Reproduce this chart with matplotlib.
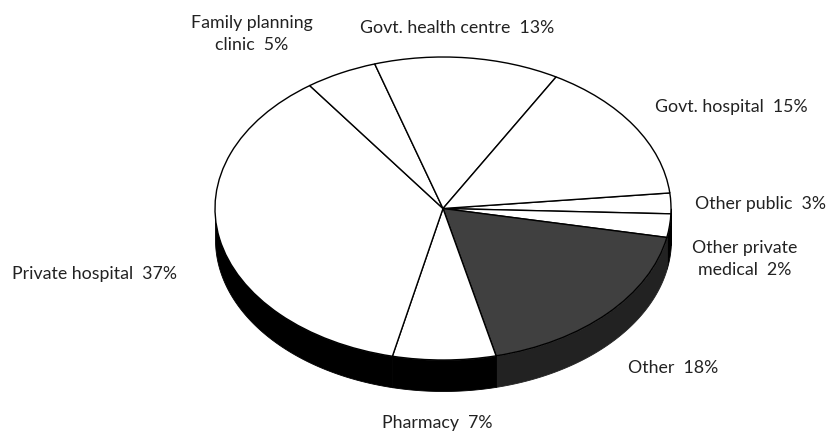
import numpy as np
import matplotlib
matplotlib.use("Agg")
import matplotlib.pyplot as plt

# clockwise from the right hand edge
slices = ["Other public", "Other private medical", "Other", "Pharmacy",
          "Private hospital", "Family planning clinic", "Govt. health centre", "Govt. hospital"]
shares = [2.2, 2.5, 18.2, 7.3, 36.5, 5.1, 13.1, 15.1]
top_colors = ["white", "white", "#404040", "white", "white", "white", "white", "white"]
side_colors = ["black", "black", "#222222", "black", "black", "black", "black", "black"]
labels = ["Other public  3%", "Other private\nmedical  2%", "Other  18%", "Pharmacy  7%",
          "Private hospital  37%", "Family planning\nclinic  5%", "Govt. health centre  13%",
          "Govt. hospital  15%"]
label_xy = [(760, 204), (745, 259), (673, 368), (437, 423), (94, 274), (252, 34), (457, 28), (731, 107)]

W, H = 830, 432
cx, cy, rx, ry, depth = 443, 208.5, 228, 151.5, 31
start = 5.9

plt.rcParams["font.family"] = ["Lato", "DejaVu Sans"]
fig = plt.figure(figsize=(W / 100, H / 100), dpi=100)
ax = fig.add_axes([0, 0, 1, 1])

# side wall first, only the front half of each slice shows
edges = start - np.cumsum([0] + shares) * 3.6
dz = depth / ry
for i in range(len(shares)):
    lo, hi = max(edges[i + 1], -180), min(edges[i], 0)
    if hi <= lo:
        continue
    t = np.radians(np.linspace(lo, hi, 100))
    ax.fill_between(np.cos(t), np.sin(t) - dz, np.sin(t), color=side_colors[i], lw=0.6, zorder=1)

ax.pie(shares, startangle=start, counterclock=False, colors=top_colors,
       wedgeprops={"edgecolor": "black", "linewidth": 1.0, "zorder": 2})
ax.set_aspect("auto")
ax.set_xlim(-cx / rx, (W - cx) / rx)
ax.set_ylim((cy - H) / ry, cy / ry)
ax.axis("off")

for text, (x, y) in zip(labels, label_xy):
    fig.text(x / W, 1 - y / H, text, ha="center", va="center", fontsize=12.8,
             color="#222222", linespacing=1.4)

fig.savefig("out.png", dpi=100)
